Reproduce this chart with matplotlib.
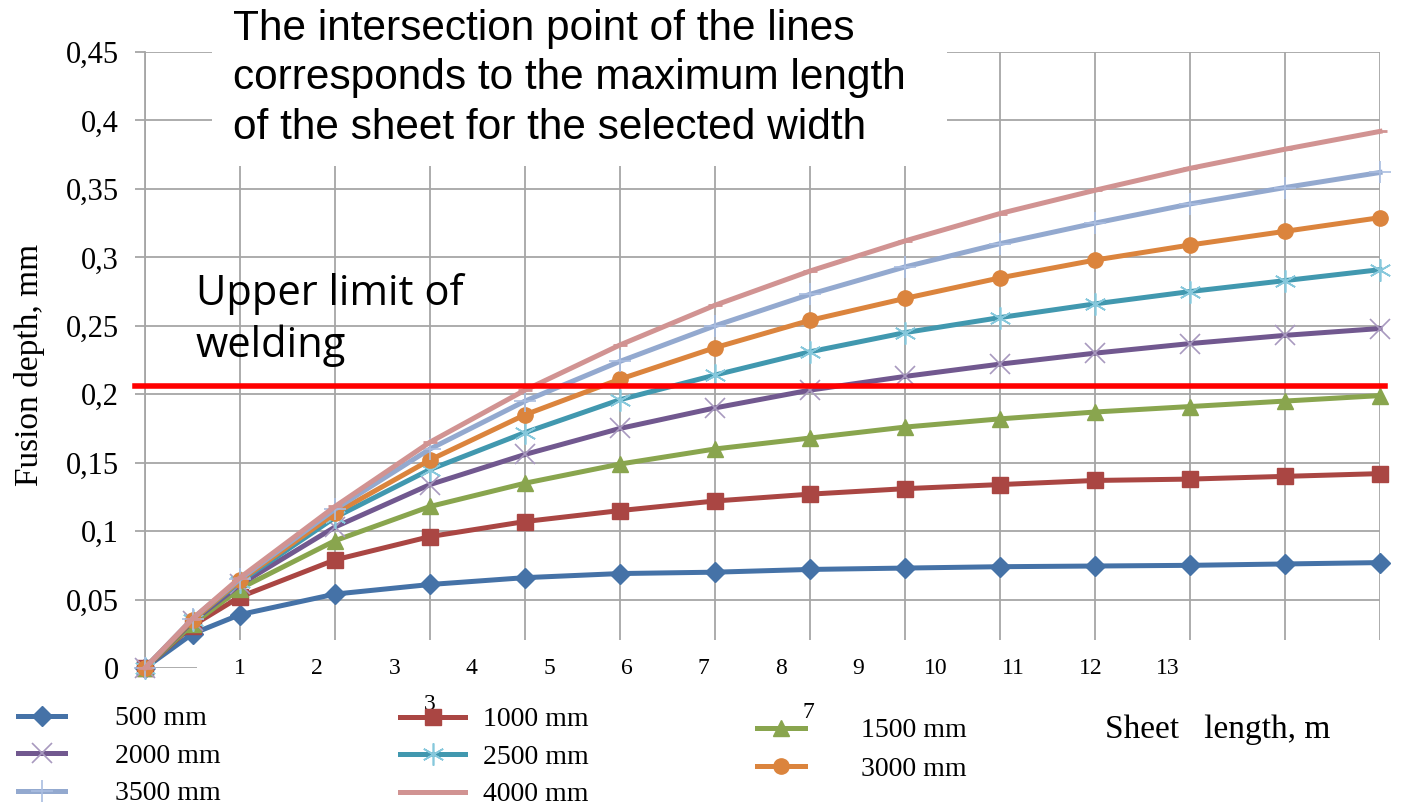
import numpy as np
import matplotlib
matplotlib.use("Agg")
import matplotlib.pyplot as plt
from matplotlib.patches import Rectangle

# x positions in grid units (0, 0.5, 1 ... 13)
x = [0, 0.5, 1, 2, 3, 4, 5, 6, 7, 8, 9, 10, 11, 12, 13]

w500 = [0, 0.025, 0.039, 0.054, 0.061, 0.066, 0.069, 0.070, 0.072, 0.073, 0.074, 0.0745, 0.075, 0.076, 0.077]
w1000 = [0, 0.031, 0.052, 0.079, 0.096, 0.107, 0.115, 0.122, 0.127, 0.131, 0.134, 0.137, 0.138, 0.140, 0.142]
w1500 = [0, 0.032, 0.058, 0.093, 0.118, 0.135, 0.149, 0.160, 0.168, 0.176, 0.182, 0.187, 0.191, 0.195, 0.199]
w2000 = [0, 0.034, 0.061, 0.103, 0.134, 0.156, 0.175, 0.190, 0.203, 0.213, 0.222, 0.230, 0.237, 0.243, 0.248]
w2500 = [0, 0.035, 0.063, 0.110, 0.145, 0.172, 0.196, 0.214, 0.231, 0.245, 0.256, 0.266, 0.275, 0.283, 0.291]
w3000 = [0, 0.035, 0.064, 0.113, 0.152, 0.185, 0.211, 0.234, 0.254, 0.270, 0.285, 0.298, 0.309, 0.319, 0.329]
w3500 = [0, 0.036, 0.065, 0.116, 0.160, 0.195, 0.224, 0.250, 0.273, 0.293, 0.310, 0.325, 0.339, 0.351, 0.362]
w4000 = [0, 0.036, 0.066, 0.118, 0.165, 0.203, 0.236, 0.265, 0.290, 0.312, 0.332, 0.349, 0.365, 0.379, 0.392]

upper_limit = 0.206

y_ticks = [0, 0.05, 0.1, 0.15, 0.2, 0.25, 0.3, 0.35, 0.4, 0.45]
y_labels = ['0', '0,05', '0,1', '0,15', '0,2', '0,25', '0,3', '0,35', '0,4', '0,45']
x_labels = ['1', '2', '3', '4', '5', '6', '7', '8', '9', '10', '11', '12', '13']

W, H = 1401, 806
fig = plt.figure(figsize=(W / 100, H / 100), dpi=100)
ax = fig.add_axes([145 / W, 1 - 668 / H, (1380 - 145) / W, (668 - 52) / H])

serif = 'Liberation Serif'
grid_c = '#a6a6a6'

ax.set_xlim(0, 13)
ax.set_ylim(0, 0.45)
ax.set_xticks(range(14))
ax.set_xticklabels([])
ax.set_yticks(y_ticks)
ax.set_yticklabels(y_labels, fontfamily=serif, fontsize=22)
ax.tick_params(axis='x', length=0)
ax.tick_params(axis='y', length=7, color=grid_c, width=1.3, pad=12)
ax.grid(True, color=grid_c, linewidth=1.3)
ax.set_axisbelow(True)
for s in ['top', 'right', 'bottom']:
    ax.spines[s].set_visible(False)
ax.spines['left'].set_color(grid_c)
ax.spines['left'].set_linewidth(1.3)

# white boxes hiding parts of the grid (as in the original picture)
ax.add_patch(Rectangle((0.55, -0.05), 13, 0.0705, facecolor='white', edgecolor='none',
                       zorder=1, clip_on=False))
ax.add_patch(Rectangle((0.705, 0.367), 7.74, 0.2, facecolor='white', edgecolor='none',
                       zorder=1, clip_on=False))

lw = 3.6
series = [
    ('500 mm', w500, '#4572A7', dict(marker='D', ms=10)),
    ('1000 mm', w1000, '#AA4643', dict(marker='s', ms=11)),
    ('1500 mm', w1500, '#89A54E', dict(marker='^', ms=11)),
    ('2000 mm', w2000, '#71588F', dict(marker='x', ms=15, mew=1.2, mec='#a899bf')),
    ('2500 mm', w2500, '#4198AF', dict(marker=(6, 2, 0), ms=16, mew=1.2, mec='#86c8dc')),
    ('3000 mm', w3000, '#DB843D', dict(marker='o', ms=11)),
    ('3500 mm', w3500, '#93A9CF', dict(marker='+', ms=16, mew=1.2, mec='#a9bde0')),
    ('4000 mm', w4000, '#D19392', dict(marker='_', ms=10, mew=2)),
]
handles = {}
for i, (name, vals, col, mk) in enumerate(series):
    h, = ax.plot(x, vals, color=col, lw=lw, zorder=3 + i, clip_on=False, **mk)
    handles[name] = h

ax.axhline(upper_limit, xmin=-0.008, xmax=1.004, color='#ff0000', lw=4, zorder=20, clip_on=False)

# x labels (placed as in the original, not aligned with grid)
for k, lab in enumerate(x_labels):
    px = 240 + k * 77.3
    ax.text((px - 145) / 95, -0.0, lab, fontfamily=serif, fontsize=17,
            ha='center', va='center', zorder=5)

fig.text(30 / W, 1 - 365 / H, 'Fusion depth, mm', rotation=90, fontfamily=serif,
         fontsize=24, ha='center', va='center')
fig.text(1105 / W, 1 - 730 / H, 'Sheet   length, m', fontfamily=serif, fontsize=24,
         ha='left', va='center')

fig.text(233 / W, 1 - 9 / H, 'The intersection point of the lines\n'
         'corresponds to the maximum length\nof the sheet for the selected width',
         fontfamily='Liberation Sans', fontsize=30.5, ha='left', va='top', linespacing=1.3)
fig.text(196 / W, 1 - 273 / H, 'Upper limit of\nwelding', fontfamily='Open Sans',
         fontsize=30, ha='left', va='top', linespacing=1.28, zorder=6)

# legend in three columns
cols = [
    (['500 mm', '2000 mm', '3500 mm'], 18, 706, 1.7, 1.8, 0.43),
    (['1000 mm', '2500 mm', '4000 mm'], 400, 707, 2.34, 0.65, 0.43),
    (['1500 mm', '3000 mm'], 757, 718, 1.73, 2.0, 0.47),
]
for names, px, py, hl, hp, ls in cols:
    leg = fig.legend([handles[n] for n in names], names, loc='upper left',
                     bbox_to_anchor=(px / W, 1 - py / H), frameon=False,
                     prop={'family': serif, 'size': 20}, handlelength=hl,
                     handletextpad=hp, labelspacing=ls, borderpad=0,
                     borderaxespad=0, numpoints=1)

fig.text(430 / W, 1 - 705 / H, '3', fontfamily=serif, fontsize=17, ha='center', va='center')
fig.text(808 / W, 1 - 712 / H, '7', fontfamily=serif, fontsize=17, ha='center', va='center')

fig.savefig('out.png', dpi=100)
